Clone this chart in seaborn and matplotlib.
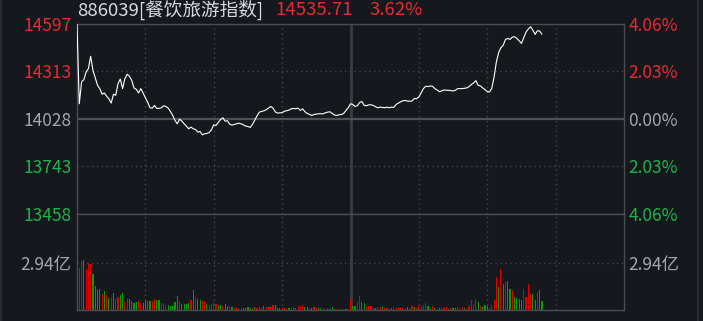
import numpy as np
import pandas as pd
import matplotlib
matplotlib.use("Agg")
import matplotlib.pyplot as plt
from matplotlib.lines import Line2D
import seaborn as sns

# ---------------- data ----------------
title_name = "886039[餐饮旅游指数]"
last_price = "14535.71"
last_pct = "3.62%"

price_ticks = [13458, 13743, 14028, 14313, 14597]
price_tick_labels = ["13458", "13743", "14028", "14313", "14597"]
pct_tick_labels = ["4.06%", "2.03%", "0.00%", "2.03%", "4.06%"]
vol_tick = 2.94
vol_tick_label = "2.94亿"

price = [
    14597, 14119, 14250, 14264, 14310, 14330, 14404, 14320, 14276, 14230,
    14210, 14176, 14184, 14164, 14149, 14123, 14176, 14170, 14240, 14268,
    14210, 14270, 14296, 14284, 14260, 14214, 14206, 14184, 14210, 14184,
    14155, 14129, 14095, 14093, 14109, 14091, 14091, 14095, 14107, 14103,
    14093, 14073, 14049, 14019, 13999, 14027, 14015, 13999, 13985, 13969,
    13979, 13969, 13965, 13949, 13953, 13933, 13939, 13941, 13947, 13963,
    13993, 13989, 14007, 14025, 14035, 14015, 14017, 13997, 13991, 13995,
    13999, 14003, 13999, 13993, 13985, 13983, 13977, 13995, 14021, 14047,
    14069, 14073, 14077, 14083, 14093, 14103, 14093, 14071, 14063, 14065,
    14065, 14075, 14077, 14081, 14089, 14091, 14089, 14093, 14079, 14089,
    14071, 14061, 14055, 14049, 14055, 14057, 14059, 14059, 14059, 14065,
    14069, 14071, 14061, 14051, 14049, 14053, 14055, 14061, 14079, 14095,
    14119, 14115, 14103, 14107, 14127, 14133, 14109, 14107, 14113, 14113,
    14109, 14101, 14095, 14099, 14097, 14095, 14099, 14095, 14099, 14097,
    14115, 14123, 14131, 14137, 14139, 14135, 14135, 14135, 14151, 14149,
    14161, 14184, 14210, 14224, 14222, 14226, 14224, 14210, 14202, 14192,
    14196, 14202, 14200, 14200, 14198, 14196, 14200, 14210, 14210, 14210,
    14212, 14214, 14222, 14234, 14244, 14258, 14230, 14226, 14214, 14204,
    14192, 14190, 14212, 14280, 14370, 14426, 14456, 14470, 14505, 14511,
    14505, 14519, 14521, 14511, 14497, 14481, 14515, 14549, 14567, 14581,
    14561, 14535, 14557, 14555, 14535.71,
]

volume = [
    5.95, 2.61, 3.07, 3.15, 2.59, 2.96, 2.86, 2.23, 1.52, 1.27,
    1.34, 1.02, 1.17, 0.92, 0.77, 0.83, 1.09, 0.69, 0.83, 0.96,
    1.09, 0.52, 0.69, 0.69, 0.58, 0.46, 0.48, 0.54, 0.46, 0.46,
    0.63, 0.54, 0.58, 0.58, 0.71, 0.61, 0.65, 0.46, 0.46, 0.33,
    0.33, 0.27, 0.27, 0.52, 0.90, 0.58, 0.40, 0.40, 0.40, 0.46,
    0.65, 1.27, 0.83, 0.71, 0.65, 0.58, 0.58, 0.40, 0.33, 0.40,
    0.46, 0.40, 0.33, 0.33, 0.27, 0.40, 0.27, 0.27, 0.21, 0.15,
    0.15, 0.08, 0.15, 0.15, 0.15, 0.21, 0.15, 0.15, 0.21, 0.15,
    0.21, 0.15, 0.27, 0.21, 0.21, 0.21, 0.33, 0.33, 0.15, 0.15,
    0.15, 0.15, 0.08, 0.15, 0.15, 0.21, 0.15, 0.27, 0.21, 0.33,
    0.21, 0.21, 0.15, 0.15, 0.21, 0.15, 0.15, 0.15, 0.15, 0.08,
    0.15, 0.08, 0.21, 0.08, 0.08, 0.08, 0.08, 0.08, 0.08, 0.08,
    0.71, 0.27, 0.27, 0.52, 0.90, 0.52, 0.46, 0.21, 0.27, 0.27,
    0.15, 0.15, 0.21, 0.21, 0.21, 0.15, 0.15, 0.08, 0.15, 0.21,
    0.15, 0.15, 0.15, 0.15, 0.08, 0.21, 0.15, 0.27, 0.21, 0.15,
    0.27, 0.27, 0.33, 0.46, 0.27, 0.08, 0.27, 0.15, 0.08, 0.15,
    0.15, 0.15, 0.21, 0.08, 0.15, 0.15, 0.15, 0.21, 0.15, 0.21,
    0.15, 0.08, 0.27, 0.65, 0.40, 0.71, 0.52, 0.27, 0.21, 0.33,
    0.27, 0.15, 0.33, 0.65, 2.09, 1.46, 2.59, 1.65, 1.77, 1.84,
    1.34, 1.27, 0.83, 0.77, 0.71, 0.65, 1.34, 0.83, 1.65, 1.02,
    1.02, 0.65, 1.15, 1.27, 0.58,
]

vol_dir = list(
    "rrrgrrrggg" "grgrgrgrrg" "grrggggrrg" "gggrrggrrr"
    "gggggrgggg" "rgrggrrgrr" "rrggrggrgr" "rgrggggrgr"
    "rrgrrrrggg" "rrggrrgrrr" "ggrgrrggrr" "rgggrrrrgr"
    "rggrrggrrr" "ggrrgrrggr" "rrrrggrrgr" "rrrrggrggg"
    "rrrgrggrrr" "grrrrrgrgg" "grrrrgrgrg" "grggggrrrr"
    "ggrgg"
)

minutes = list(range(len(price)))

# ---------------- style ----------------
BG = "#15181d"
RED_T = "#ea2a33"
GREEN_T = "#1fb34a"
GRAY_T = "#a3a7ad"
BAR_R = "#e00000"
BAR_G = "#0a9a0a"
BOX = "#4a4c52"
DOT = "#44474d"

sns.set_theme(style="dark")
plt.rcParams["font.family"] = ["Noto Sans CJK SC", "DejaVu Sans"]
plt.rcParams["axes.facecolor"] = BG
plt.rcParams["figure.facecolor"] = BG

W, H = 703, 321
fig = plt.figure(figsize=(W / 100, H / 100), dpi=100)

L, R = 77, 624
axp = fig.add_axes([L / W, 1 - 214 / H, (R - L) / W, (214 - 24) / H])
axv = fig.add_axes([L / W, 1 - 310 / H, (R - L) / W, (310 - 214) / H])

FS = 12.5
FS_T = 13.4

for ax in (axp, axv):
    ax.set_facecolor(BG)
    ax.set_xlim(0, 240)
    for s in ax.spines.values():
        s.set_color(BOX)
        s.set_linewidth(1.0)
    ax.set_xticks([])
    ax.grid(False)
    for m in [30, 60, 90, 150, 180, 210]:
        ax.axvline(m, color=DOT, lw=1.0, ls=(0, (1, 2.5)), zorder=0)
    ax.axvline(120, color="#3a3c41", lw=2.0, zorder=0)

# price panel
axp.set_ylim(13458, 14597.5)
axp.axhline(14313, color=DOT, lw=1.0, ls=(0, (1, 2.5)), zorder=0)
axp.axhline(13743, color=DOT, lw=1.0, ls=(0, (1, 2.5)), zorder=0)
axp.axhline(14028, color="#4f5157", lw=1.6, zorder=0)
sns.lineplot(x=minutes, y=price, ax=axp, color="white", linewidth=0.8, zorder=3)
axp.set_xlim(0, 240)
axp.set_xlabel("")
axp.set_ylabel("")
axp.set_yticks(price_ticks)
axp.set_yticklabels(price_tick_labels, fontsize=FS)
left_cols = [GREEN_T, GREEN_T, GRAY_T, RED_T, RED_T]
for lab, c in zip(axp.get_yticklabels(), left_cols):
    lab.set_color(c)
axp.tick_params(axis="y", length=0, pad=4)

axp2 = axp.twinx()
axp2.set_ylim(axp.get_ylim())
axp2.set_yticks(price_ticks)
axp2.set_yticklabels(pct_tick_labels[::-1], fontsize=FS)
for lab, c in zip(axp2.get_yticklabels(), left_cols):
    lab.set_color(c)
axp2.tick_params(axis="y", length=0, pad=3)
for s in axp2.spines.values():
    s.set_visible(False)
axp2.grid(False)

# volume panel
df = pd.DataFrame({"minute": minutes, "vol": volume, "dir": vol_dir})
sns.barplot(data=df, x="minute", y="vol", hue="dir",
            palette={"r": BAR_R, "g": BAR_G}, native_scale=True,
            width=0.5, dodge=False, legend=False, errorbar=None,
            saturation=1, linewidth=0, ax=axv, zorder=2)
axv.set_xlim(0, 240)
axv.set_ylim(0, 6.0)
axv.set_xlabel("")
axv.set_ylabel("")
axv.set_xticks([])
axv.axhline(vol_tick, color=DOT, lw=1.0, ls=(0, (1, 2.5)), zorder=0)
axv.set_yticks([vol_tick])
axv.set_yticklabels([vol_tick_label], fontsize=FS, color=GRAY_T)
axv.tick_params(axis="y", length=0, pad=4)
axv2 = axv.twinx()
axv2.set_ylim(0, 6.0)
axv2.set_yticks([vol_tick])
axv2.set_yticklabels([vol_tick_label], fontsize=FS, color=GRAY_T)
axv2.tick_params(axis="y", length=0, pad=3)
for s in axv2.spines.values():
    s.set_visible(False)
axv2.grid(False)

# title
fig.text(L / W, 1 - 10 / H, title_name, color="#d6d9de", fontsize=FS_T,
         va="center", ha="left")
fig.text(275 / W, 1 - 10 / H, last_price, color=RED_T, fontsize=FS_T,
         va="center", ha="left")
fig.text(370 / W, 1 - 10 / H, last_pct, color=RED_T, fontsize=FS_T,
         va="center", ha="left")

# outer frame lines
fig.add_artist(Line2D([697.5 / W, 697.5 / W], [0, 1], color="#2c2e33", lw=1.2))
fig.add_artist(Line2D([0.8 / W, 0.8 / W], [0, 1], color="#2c2e33", lw=1.2))

fig.savefig("out.png", dpi=100, facecolor=BG)
